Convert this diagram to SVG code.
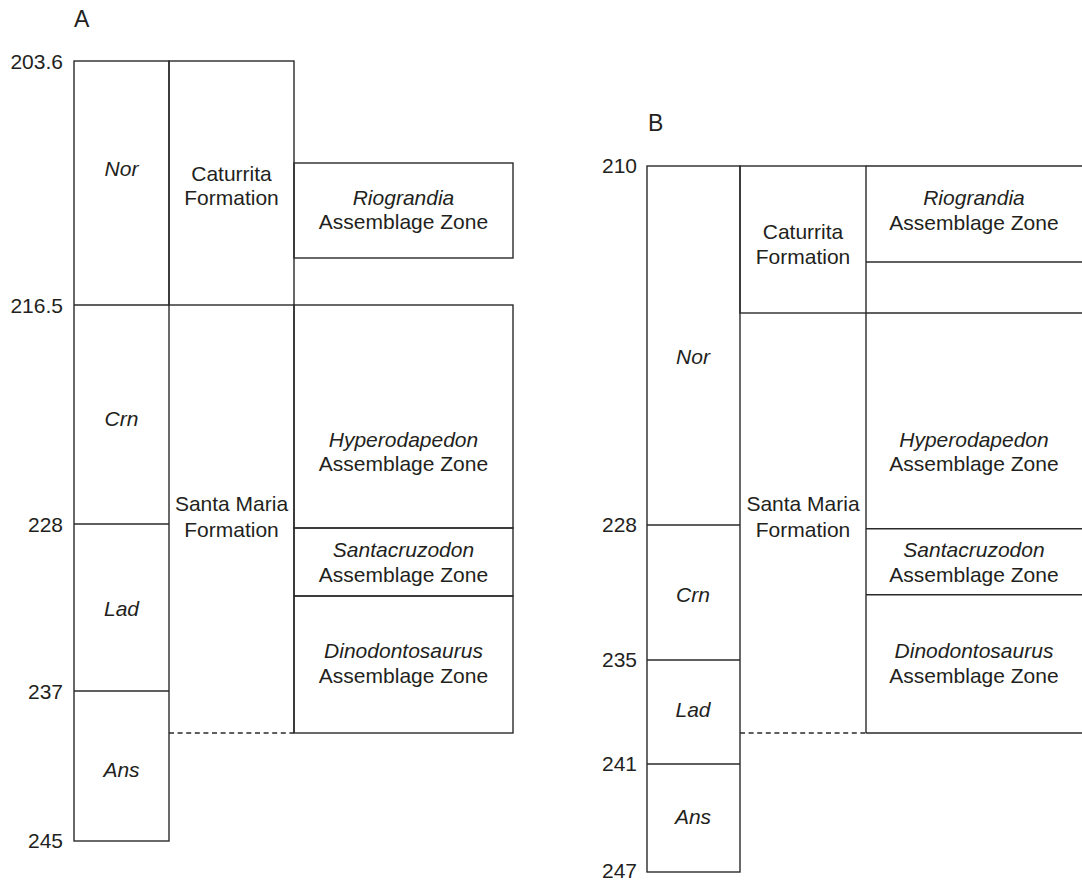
<svg xmlns="http://www.w3.org/2000/svg" width="1082" height="880" viewBox="0 0 1082 880">
<style>
  .ln { fill: none; stroke: #2a2a2a; stroke-width: 1.4; }
  .dash { fill: none; stroke: #2a2a2a; stroke-width: 1.4; stroke-dasharray: 5 3.6; }
  text { font-family: "Liberation Sans", Arial, sans-serif; font-size: 21px; fill: #231f20; }
  .c { text-anchor: middle; }
  .r { text-anchor: end; }
  .i { font-style: italic; }
  .panel { font-size: 23px; }
</style>
<rect width="1082" height="880" fill="#ffffff"/>

<!-- Panel A -->
<g id="panelA">
  <text class="panel" x="74" y="27">A</text>
  <g id="A-ages">
    <text class="r" x="63" y="69">203.6</text>
    <text class="r" x="63" y="313">216.5</text>
    <text class="r" x="63" y="532">228</text>
    <text class="r" x="63" y="699">237</text>
    <text class="r" x="63" y="848">245</text>
  </g>
  <g id="A-stages">
    <rect class="ln" x="74" y="61" width="95" height="780"/>
    <line class="ln" x1="74" y1="305" x2="169" y2="305"/>
    <line class="ln" x1="74" y1="524" x2="169" y2="524"/>
    <line class="ln" x1="74" y1="691" x2="169" y2="691"/>
    <text class="c i" x="121.5" y="176">Nor</text>
    <text class="c i" x="121.5" y="426">Crn</text>
    <text class="c i" x="121.5" y="616">Lad</text>
    <text class="c i" x="121.5" y="777">Ans</text>
  </g>
  <g id="A-caturrita">
    <rect class="ln" x="169" y="61" width="125" height="244"/>
    <text class="c" x="231.5" y="181">Caturrita</text>
    <text class="c" x="231.5" y="205">Formation</text>
  </g>
  <g id="A-santamaria">
    <line class="ln" x1="294" y1="305" x2="294" y2="733"/>
    <line class="dash" x1="169" y1="733" x2="294" y2="733"/>
    <text class="c" x="231.5" y="511">Santa Maria</text>
    <text class="c" x="231.5" y="537">Formation</text>
  </g>
  <g id="A-riograndia">
    <rect class="ln" x="294" y="163" width="219" height="95"/>
    <text class="c i" x="403.5" y="205">Riograndia</text>
    <text class="c" x="403.5" y="229">Assemblage Zone</text>
  </g>
  <g id="A-hyperodapedon">
    <rect class="ln" x="294" y="305" width="219" height="223"/>
    <text class="c i" x="403.5" y="447">Hyperodapedon</text>
    <text class="c" x="403.5" y="471">Assemblage Zone</text>
  </g>
  <g id="A-santacruzodon">
    <rect class="ln" x="294" y="528" width="219" height="68"/>
    <text class="c i" x="403.5" y="557">Santacruzodon</text>
    <text class="c" x="403.5" y="582">Assemblage Zone</text>
  </g>
  <g id="A-dinodontosaurus">
    <rect class="ln" x="294" y="596" width="219" height="137"/>
    <text class="c i" x="403.5" y="658">Dinodontosaurus</text>
    <text class="c" x="403.5" y="683">Assemblage Zone</text>
  </g>
</g>

<!-- Panel B -->
<g id="panelB">
  <text class="panel" x="648" y="131">B</text>
  <g id="B-ages">
    <text class="r" x="637" y="173">210</text>
    <text class="r" x="637" y="532">228</text>
    <text class="r" x="637" y="667">235</text>
    <text class="r" x="637" y="771">241</text>
    <text class="r" x="637" y="878">247</text>
  </g>
  <g id="B-stages">
    <rect class="ln" x="647" y="166" width="93" height="706"/>
    <line class="ln" x1="647" y1="525" x2="740" y2="525"/>
    <line class="ln" x1="647" y1="660" x2="740" y2="660"/>
    <line class="ln" x1="647" y1="764" x2="740" y2="764"/>
    <text class="c i" x="693" y="364">Nor</text>
    <text class="c i" x="693" y="602">Crn</text>
    <text class="c i" x="693" y="717">Lad</text>
    <text class="c i" x="693" y="824">Ans</text>
  </g>
  <g id="B-caturrita">
    <rect class="ln" x="740" y="166" width="126" height="147"/>
    <text class="c" x="803" y="239">Caturrita</text>
    <text class="c" x="803" y="264">Formation</text>
  </g>
  <g id="B-santamaria">
    <line class="ln" x1="866" y1="313" x2="866" y2="733"/>
    <line class="dash" x1="740" y1="733" x2="866" y2="733"/>
    <text class="c" x="803" y="511">Santa Maria</text>
    <text class="c" x="803" y="537">Formation</text>
  </g>
  <g id="B-riograndia">
    <line class="ln" x1="866" y1="166" x2="1082" y2="166"/>
    <line class="ln" x1="866" y1="262" x2="1082" y2="262"/>
    <text class="c i" x="974" y="205">Riograndia</text>
    <text class="c" x="974" y="230">Assemblage Zone</text>
  </g>
  <g id="B-hyperodapedon">
    <line class="ln" x1="866" y1="313" x2="1082" y2="313"/>
    <text class="c i" x="974" y="447">Hyperodapedon</text>
    <text class="c" x="974" y="471">Assemblage Zone</text>
  </g>
  <g id="B-santacruzodon">
    <line class="ln" x1="866" y1="528.7" x2="1082" y2="528.7"/>
    <text class="c i" x="974" y="557">Santacruzodon</text>
    <text class="c" x="974" y="582">Assemblage Zone</text>
  </g>
  <g id="B-dinodontosaurus">
    <line class="ln" x1="866" y1="594.7" x2="1082" y2="594.7"/>
    <line class="ln" x1="866" y1="733" x2="1082" y2="733"/>
    <text class="c i" x="974" y="658">Dinodontosaurus</text>
    <text class="c" x="974" y="683">Assemblage Zone</text>
  </g>
</g>
</svg>
